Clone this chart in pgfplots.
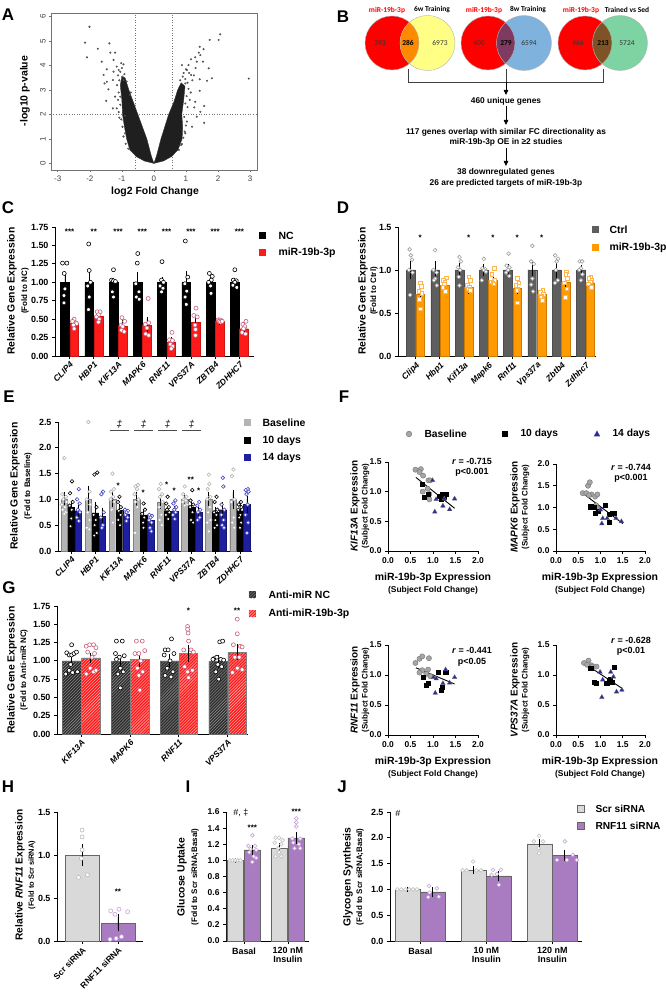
\documentclass[border=0pt]{standalone}
\usepackage{fontspec}
\setmainfont{Liberation Sans}
\newfontfamily\carlito{Carlito}
\usepackage{pgfplots}
\pgfplotsset{compat=1.18}
\usetikzlibrary{patterns,arrows.meta}
\newcommand{\fs}[1]{\fontsize{#1}{#1}\selectfont}
\definecolor{vred}{HTML}{FF0000}
\definecolor{vyel}{HTML}{FFFF85}
\definecolor{vora}{HTML}{FF8A00}
\definecolor{vblu}{HTML}{7FB3DD}
\definecolor{vpur}{HTML}{7E3A60}
\definecolor{vgrn}{HTML}{7DD3A2}
\definecolor{vbrn}{HTML}{7E5426}
\definecolor{cred}{HTML}{FF1A1A}
\definecolor{cpink}{HTML}{C8607C}
\definecolor{dgray}{HTML}{5E5E5E}
\definecolor{dorange}{HTML}{FF9A00}
\definecolor{lorange}{HTML}{FFB54D}
\definecolor{egray}{HTML}{B4B4B4}
\definecolor{eblue}{HTML}{1E1EA0}
\definecolor{epblue}{HTML}{4848C8}
\definecolor{hgray}{HTML}{D9D9D9}
\definecolor{hpur}{HTML}{A97CC1}
\definecolor{hlpur}{HTML}{C9A3DC}
\definecolor{fblue}{HTML}{2A2AA0}
\tikzset{st/.style={font=\bfseries\fs{8}}}
\pgfplotsset{
 bpan/.style={scale only axis, anchor=south west, clip=false, axis x line*=bottom, axis y line*=left,
   tick align=outside, major tick length=3bp, ymin=0, axis line style={line width=0.9bp},
   tick style={line width=0.8bp, black}, /pgf/number format/assume math mode=true,
   ticklabel style={font=\bfseries\fs{9}},
   yticklabel style={/pgf/number format/fixed, /pgf/number format/fixed zerofill, /pgf/number format/precision=1}},
 catx/.style={xticklabel style={rotate=45, anchor=north east, font=\bfseries\itshape\fs{8.5}, inner sep=1.5bp}},
 eb/.style={/pgfplots/error bars/y dir=both, /pgfplots/error bars/y explicit,
   /pgfplots/error bars/error bar style={black, line width=0.8bp, solid},
   /pgfplots/error bars/error mark options={black, mark size=2.5bp, line width=0.8bp}},
 fpan/.style={scale only axis, anchor=south west, clip=false, axis x line*=bottom, axis y line*=left,
   tick align=outside, major tick length=3bp, xmin=0, xmax=2, ymin=0, axis line style={line width=0.9bp},
   tick style={line width=0.8bp, black}, /pgf/number format/assume math mode=true,
   xtick={0,0.5,1,1.5,2}, ticklabel style={font=\bfseries\fs{8.5}, /pgf/number format/fixed, /pgf/number format/fixed zerofill, /pgf/number format/precision=1}},
 fbase/.style={only marks, mark=*, mark size=2.6bp, mark options={fill=gray!70, draw=black!55, line width=0.4bp}},
 ften/.style={only marks, mark=square*, mark size=2.1bp, mark options={fill=black, draw=black}},
 ffour/.style={only marks, mark=triangle*, mark size=2.7bp, mark options={fill=fblue, draw=black!60, line width=0.3bp}},
}
\begin{document}
\begin{tikzpicture}
\path[fill=white] (0,0) rectangle (666bp,999bp);
\path[use as bounding box] (0,0) rectangle (666bp,999bp);

% ================= A: volcano
\begin{axis}[scale only axis, anchor=south west, at={(51.7bp,829bp)}, width=206bp, height=156.7bp,
 xmin=-3.19, xmax=3.24, ymin=-0.27, ymax=6.14,
 xtick={-3,-2,-1,0,1,2,3}, ytick={0,1,2,3,4,5,6},
 tick align=outside, tick pos=left, major tick length=2.5bp,
 axis line style={black!55, line width=0.6bp}, tick style={black!55, line width=0.6bp},
 /pgf/number format/assume math mode=true,
 ticklabel style={font=\fs{8}, black!75},
 yticklabel style={rotate=90, anchor=south}]
\addplot[black!55, dotted, line width=0.6bp] coordinates {(-0.585,-0.3) (-0.585,6.2)};
\addplot[black!55, dotted, line width=0.6bp] coordinates {(0.585,-0.3) (0.585,6.2)};
\addplot[black!55, dotted, line width=0.6bp] coordinates {(-3.3,2) (3.3,2)};
\addplot[fill=black!88, draw=black!80, line width=0.4bp] coordinates {(0,0) (0.08,0.3) (0.22,1.0) (0.46,2.0) (0.62,2.5) (0.74,3.0) (0.85,3.3) (0.97,3.15) (0.93,2.6) (0.87,2.0) (0.9,1.5) (0.88,1.0) (0.75,0.55) (0.55,0.28) (0.3,0.1) (0,0)} -- cycle;
\addplot[fill=black!88, draw=black!80, line width=0.4bp] coordinates {(0,0) (-0.3,0.1) (-0.55,0.28) (-0.75,0.55) (-0.85,1.0) (-0.92,1.5) (-0.98,2.0) (-1.0,2.6) (-1.05,3.2) (-1.0,3.55) (-0.9,3.5) (-0.78,3.0) (-0.64,2.5) (-0.5,2.0) (-0.22,1.0) (-0.08,0.3) (0,0)} -- cycle;
\addplot[only marks, mark=*, mark size=0.9bp, mark options={fill=black!55, draw=black!80, line width=0.2bp}] coordinates {
(-2.01,5.59) (-2.15,4.94) (-2.09,4.34) (-1.75,4.69) (-1.39,4.91) (-1.36,4.53) (-1.21,4.53) (-1.26,4.23) (-1.63,4.16) (-1.47,3.85) (-1.57,3.62) (-1.42,3.03) (-1.47,3.34) (-1.54,3.27) (-1.49,2.56) (-1.28,2.25) (-1.08,1.87) (-1.21,2.73) (-1.16,3.96) (-1.10,3.82) (-1.26,3.75) (-1.28,3.41)
(2.07,5.28) (2.02,5.05) (1.74,5.05) (1.43,4.77) (1.55,4.67) (1.40,4.53) (1.29,4.34) (1.16,4.26) (1.34,4.16) (1.71,3.89) (1.81,3.48) (1.66,3.38) (1.43,3.44) (1.16,3.62) (2.96,3.47) (1.43,2.97) (1.29,2.52) (1.57,2.35) (1.26,2.29) (1.57,1.66) (1.45,2.11) (1.34,1.91) (1.03,1.71) (1.19,1.5) (0.98,1.23) (0.875,0.79)
(-0.9,1.23) (-0.95,1.77) (-1.16,2.25) (-1.05,2.73) (-0.95,3.41) (1.03,3.82) (0.98,3.27) (0.875,4.02) (1.08,4.02) (1.45,4.43) (1.53,4.16)
(-1.12,3.6) (-1.05,3.75) (-0.98,3.55) (-1.08,3.4) (-1.15,3.2) (-1.1,2.9) (-1.12,2.6) (-1.05,2.4) (-1.1,2.1) (-1.02,1.8) (-0.98,1.5) (-0.95,1.1) (-0.88,0.8) (-0.8,0.6) (-0.9,1.95) (-0.85,3.35) (-0.92,3.65) (-1.0,3.9) (-0.95,4.05) (-1.02,4.1) (-0.72,2.9) (-0.75,2.8)
(0.82,3.4) (0.9,3.55) (0.98,3.45) (1.05,3.3) (1.08,3.05) (1.02,2.75) (0.98,2.45) (1.05,2.3) (0.95,1.9) (1.0,1.55) (0.96,1.3) (0.92,1.05) (0.85,0.75) (0.78,0.55) (1.12,2.6) (1.15,2.9) (1.2,3.4) (1.1,3.7) (1.0,3.85) (0.93,3.7) (1.25,3.6) (1.3,3.9)};
\end{axis}

% ================= C
\begin{axis}[bpan, catx, at={(55bp,643bp)}, width=199bp, height=129bp,
 xmin=-0.6, xmax=7.6, ymax=1.75, ytick={0,0.25,0.5,0.75,1,1.25,1.5,1.75},
 yticklabel style={/pgf/number format/precision=2},
 xtick={0,1,2,3,4,5,6,7}, xticklabels={CLIP4,HBP1,KIF13A,MAPK6,RNF11,VPS37A,ZBTB4,ZDHHC7}]
\addplot[ybar, bar width=0.36, bar shift=0pt, fill=black, draw=black, eb] coordinates {
(-0.19,1) +- (0,0.10) (0.81,1) +- (0,0.13) (1.81,1) +- (0,0.03) (2.81,1) +- (0,0.11) (3.81,1) +- (0,0.04) (4.81,1) +- (0,0.12) (5.81,1) +- (0,0.04) (6.81,1) +- (0,0.03)};
\addplot[ybar, bar width=0.36, bar shift=0pt, fill=cred, draw=cred!80!black, line width=0.4bp, eb] coordinates {
(0.19,0.44) +- (0,0.02) (1.19,0.54) +- (0,0.03) (2.19,0.41) +- (0,0.04) (3.19,0.42) +- (0,0.08) (4.19,0.19) +- (0,0.03) (5.19,0.46) +- (0,0.06) (6.19,0.47) +- (0,0.01) (7.19,0.37) +- (0,0.03)};
\addplot[only marks, mark=*, mark size=2bp, mark options={fill=white, draw=black, line width=0.6bp}] coordinates {
(-0.29,1.26)(-0.11,1.26)(-0.22,1.12)(-0.19,0.91)(-0.23,0.82)(-0.23,0.72)
(0.79,1.52)(0.81,1.16)(0.86,1.0)(0.75,0.95)(0.81,0.80)(0.78,0.63)
(1.81,1.17)(1.73,1.03)(1.81,1.02)(1.89,1.01)(1.76,0.87)(1.81,0.80)
(2.81,1.39)(2.79,1.26)(2.73,0.98)(2.86,0.87)(2.75,0.80)(2.87,0.77)
(3.81,1.28)(3.79,1.03)(3.87,1.0)(3.73,0.95)(3.85,0.92)(3.79,0.87)
(4.77,1.56)(4.87,1.07)(4.75,0.98)(4.83,0.88)(4.76,0.80)(4.81,0.70)
(5.76,1.12)(5.88,1.08)(5.84,1.03)(5.73,1.0)(5.81,0.95)(5.83,0.85)
(6.81,1.17)(6.75,1.03)(6.87,1.02)(6.81,1.0)(6.73,0.96)(6.89,0.93)};
\addplot[only marks, mark=*, mark size=2bp, mark options={fill=white, draw=cpink, line width=0.6bp}] coordinates {
(0.19,0.50)(0.12,0.47)(0.26,0.45)(0.29,0.44)(0.16,0.42)(0.19,0.37)
(1.14,0.60)(1.26,0.60)(1.19,0.56)(1.11,0.53)(1.22,0.50)(1.19,0.46)
(2.16,0.52)(2.27,0.47)(2.12,0.42)(2.19,0.40)(2.14,0.35)(2.25,0.33)
(3.24,0.78)(3.26,0.45)(3.12,0.43)(3.19,0.38)(3.14,0.30)(3.26,0.28)
(4.22,0.32)(4.12,0.22)(4.24,0.21)(4.15,0.16)(4.25,0.13)(4.19,0.10)
(5.21,0.65)(5.12,0.55)(5.26,0.53)(5.17,0.42)(5.19,0.36)(5.19,0.28)
(6.12,0.49)(6.19,0.49)(6.26,0.48)(6.16,0.47)(6.22,0.46)(6.29,0.47)
(7.27,0.47)(7.14,0.43)(7.22,0.40)(7.17,0.37)(7.11,0.32)(7.25,0.30)};
\node[st] at (axis cs:0,1.69) {***};
\node[st] at (axis cs:1,1.69) {**};
\node[st] at (axis cs:2,1.69) {***};
\node[st] at (axis cs:3,1.69) {***};
\node[st] at (axis cs:4,1.69) {***};
\node[st] at (axis cs:5,1.69) {***};
\node[st] at (axis cs:6,1.69) {***};
\node[st] at (axis cs:7,1.69) {***};
\end{axis}

% ================= D
\begin{axis}[bpan, catx, at={(398bp,643bp)}, width=198bp, height=129bp,
 xmin=-0.72, xmax=7.43, ymax=1.5, ytick={0,0.5,1,1.5},
 xtick={0,1,2,3,4,5,6,7}, xticklabels={Clip4,Hbp1,Kif13a,Mapk6,Rnf11,Vps37a,Zbtb4,Zdhhc7}]
\addplot[ybar, bar width=0.36, bar shift=0pt, fill=dgray, draw=black!70, line width=0.4bp, eb] coordinates {
(-0.19,1) +- (0,0.08) (0.81,1) +- (0,0.07) (1.81,1) +- (0,0.05) (2.81,1) +- (0,0.04) (3.81,1) +- (0,0.04) (4.81,1) +- (0,0.07) (5.81,1) +- (0,0.06) (6.81,1) +- (0,0.03)};
\addplot[ybar, bar width=0.36, bar shift=0pt, fill=dorange, draw=dorange!80!black, line width=0.4bp, eb] coordinates {
(0.19,0.72) +- (0,0.05) (1.19,0.82) +- (0,0.04) (2.19,0.80) +- (0,0.05) (3.19,0.88) +- (0,0.04) (4.19,0.79) +- (0,0.04) (5.19,0.72) +- (0,0.03) (6.19,0.86) +- (0,0.06) (7.19,0.85) +- (0,0.03)};
\addplot[only marks, mark=*, mark size=1.9bp, mark options={fill=white, draw=gray!75, line width=0.6bp}] coordinates {
(-0.24,1.24)(-0.19,1.17)(-0.14,1.12)(-0.27,1.00)(-0.12,0.97)(-0.22,0.71)
(0.81,1.23)(0.74,1.00)(0.87,0.97)(0.81,0.90)(0.76,0.88)(0.88,0.82)
(1.81,1.15)(1.87,1.10)(1.75,1.03)(1.84,1.00)(1.78,0.92)(1.81,0.82)
(2.81,1.13)(2.75,1.02)(2.87,1.01)(2.81,1.00)(2.90,0.98)(2.73,0.88)
(3.83,1.19)(3.75,1.05)(3.87,1.03)(3.81,1.00)(3.73,0.97)(3.86,0.93)
(4.81,1.28)(4.76,1.10)(4.87,1.07)(4.81,0.90)(4.76,0.83)(4.84,0.75)
(5.75,1.17)(5.87,1.13)(5.81,1.10)(5.78,1.00)(5.86,0.88)(5.74,0.85)
(6.76,1.10)(6.86,1.10)(6.81,1.02)(6.74,1.00)(6.87,0.95)(6.81,0.88)};
\addplot[only marks, mark=square*, mark size=1.8bp, mark options={fill=white, draw=lorange, line width=0.7bp}] coordinates {
(0.19,0.85)(0.24,0.81)(0.13,0.75)(0.26,0.73)(0.17,0.66)(0.19,0.55)
(1.26,0.91)(1.14,0.88)(1.21,0.86)(1.19,0.84)(1.12,0.80)(1.24,0.75)
(2.19,0.92)(2.25,0.88)(2.13,0.82)(2.22,0.80)(2.17,0.78)(2.26,0.76)
(3.24,1.02)(3.15,0.95)(3.26,0.88)(3.13,0.86)(3.19,0.85)(3.22,0.84)
(4.19,0.90)(4.25,0.85)(4.13,0.82)(4.22,0.78)(4.17,0.76)(4.19,0.62)
(5.24,0.76)(5.13,0.74)(5.27,0.72)(5.19,0.70)(5.16,0.69)(5.23,0.65)
(6.22,0.98)(6.19,0.95)(6.24,0.90)(6.13,0.85)(6.23,0.78)(6.16,0.68)
(7.22,0.92)(7.14,0.90)(7.26,0.88)(7.19,0.86)(7.12,0.84)(7.23,0.80)};
\node[st] at (axis cs:0.19,1.38) {*};
\node[st] at (axis cs:2.19,1.38) {*};
\node[st] at (axis cs:3.19,1.38) {*};
\node[st] at (axis cs:4.19,1.38) {*};
\node[st] at (axis cs:5.19,1.38) {*};
\end{axis}

% ================= E
\begin{axis}[bpan, catx, at={(58bp,448bp)}, width=194bp, height=129bp,
 xmin=-0.55, xmax=7.5, ymax=2.5, ytick={0,0.5,1,1.5,2,2.5},
 xtick={0,1,2,3,4,5,6,7}, xticklabels={CLIP4,HBP1,KIF13A,MAPK6,RNF11,VPS37A,ZBTB4,ZDHHC7}]
\addplot[ybar, bar width=0.27, bar shift=0pt, fill=egray, draw=black!50, line width=0.4bp, eb] coordinates {
(-0.29,1.0) +- (0,0.10) (0.71,1.0) +- (0,0.22) (1.71,1.0) +- (0,0.10) (2.71,1.0) +- (0,0.10) (3.71,0.95) +- (0,0.08) (4.71,1.0) +- (0,0.07) (5.71,1.0) +- (0,0.10) (6.71,1.0) +- (0,0.13)};
\addplot[ybar, bar width=0.27, bar shift=0pt, fill=black, draw=black, eb] coordinates {
(0,0.85) +- (0,0.08) (1,0.74) +- (0,0.17) (2,0.79) +- (0,0.07) (3,0.70) +- (0,0.06) (4,0.77) +- (0,0.04) (5,0.85) +- (0,0.06) (6,0.75) +- (0,0.06) (7,0.78) +- (0,0.06)};
\addplot[ybar, bar width=0.27, bar shift=0pt, fill=eblue, draw=eblue!70!black, line width=0.4bp, eb] coordinates {
(0.29,0.78) +- (0,0.07) (1.29,0.67) +- (0,0.12) (2.29,0.72) +- (0,0.04) (3.29,0.60) +- (0,0.04) (4.29,0.77) +- (0,0.05) (5.29,0.76) +- (0,0.05) (6.29,0.80) +- (0,0.10) (7.29,0.90) +- (0,0.11)};
\addplot[only marks, mark=*, mark size=1.8bp, mark options={fill=white, draw=egray, line width=0.6bp}] coordinates {
(-0.29,1.80)(-0.37,1.10)(-0.22,1.05)(-0.33,1.00)(-0.20,0.95)(-0.39,0.90)(-0.26,0.85)(-0.35,0.80)(-0.23,0.75)(-0.29,0.72)
(0.71,2.50)(0.76,1.15)(0.64,1.00)(0.79,0.90)(0.68,0.75)(0.76,0.60)(0.65,0.45)(0.75,0.42)
(1.71,1.50)(1.77,1.20)(1.65,1.15)(1.74,1.05)(1.63,1.00)(1.79,0.95)(1.68,0.80)(1.73,0.55)
(2.77,1.28)(2.67,1.25)(2.73,1.20)(2.63,1.10)(2.79,1.00)(2.66,0.95)(2.74,0.85)(2.65,0.35)
(3.71,1.30)(3.64,1.20)(3.77,1.10)(3.68,1.05)(3.79,0.95)(3.65,0.85)(3.74,0.70)(3.67,0.60)(3.76,0.50)
(4.71,1.25)(4.64,1.10)(4.78,1.05)(4.68,1.00)(4.75,0.98)(4.63,0.95)(4.79,0.90)(4.71,0.88)
(5.71,1.48)(5.73,1.30)(5.66,1.20)(5.77,1.05)(5.64,1.00)(5.75,0.85)(5.68,0.75)(5.77,0.60)(5.65,0.55)(5.71,0.38)
(6.73,1.58)(6.67,1.45)(6.77,1.00)(6.64,0.95)(6.74,0.65)(6.69,0.55)(6.76,0.45)};
\addplot[only marks, mark=*, mark size=1.8bp, mark options={fill=white, draw=black, line width=0.6bp}] coordinates {
(0.03,1.35)(-0.05,1.12)(0.06,0.95)(-0.07,0.88)(0.02,0.80)(0.0,0.63)(-0.03,0.48)
(1.08,1.52)(0.96,1.48)(1.05,0.85)(0.93,0.70)(1.02,0.60)(0.97,0.50)(1.06,0.35)(0.95,0.30)
(2.0,1.05)(1.94,0.95)(2.06,0.85)(1.97,0.78)(2.05,0.70)(1.95,0.60)(2.02,0.50)
(3.0,0.92)(3.06,0.80)(2.94,0.72)(3.03,0.65)(2.98,0.55)(3.0,0.45)
(4.0,1.05)(3.94,0.92)(4.05,0.85)(3.97,0.80)(4.07,0.75)(3.93,0.70)(4.02,0.62)
(5.02,1.18)(4.95,0.98)(5.06,0.90)(4.93,0.85)(5.03,0.75)(4.97,0.60)(5.06,0.55)
(6.03,1.05)(5.95,0.95)(6.06,0.80)(5.93,0.75)(6.02,0.70)(5.98,0.60)(6.05,0.50)(5.95,0.45)
(7.04,0.95)(6.95,0.90)(7.06,0.85)(6.93,0.80)(7.02,0.70)(6.97,0.65)(7.05,0.55)(7.0,0.45)};
\addplot[only marks, mark=*, mark size=1.8bp, mark options={fill=white, draw=epblue, line width=0.6bp}] coordinates {
(0.31,1.20)(0.24,1.00)(0.35,0.92)(0.27,0.80)(0.36,0.75)(0.23,0.65)(0.31,0.58)
(1.32,1.15)(1.25,1.10)(1.35,0.75)(1.23,0.65)(1.31,0.50)(1.27,0.45)
(2.23,0.80)(2.35,0.78)(2.29,0.75)(2.25,0.70)(2.34,0.65)(2.29,0.58)
(3.24,0.70)(3.35,0.68)(3.29,0.65)(3.23,0.60)(3.33,0.55)(3.27,0.45)(3.32,0.38)
(4.32,0.98)(4.24,0.92)(4.36,0.85)(4.27,0.80)(4.33,0.75)(4.22,0.70)(4.29,0.62)
(5.31,0.95)(5.23,0.88)(5.35,0.80)(5.26,0.75)(5.33,0.65)(5.24,0.60)
(6.29,1.42)(6.31,1.25)(6.24,0.90)(6.35,0.80)(6.23,0.70)(6.32,0.60)(6.26,0.50)(6.34,0.45)
(7.33,1.20)(7.24,1.18)(7.36,1.15)(7.27,1.10)(7.32,0.90)(7.23,0.70)(7.34,0.55)(7.29,0.35)};
\draw[line width=0.6bp, black!70] (axis cs:1.6,2.33) -- (axis cs:2.4,2.33);
\draw[line width=0.6bp, black!70] (axis cs:2.6,2.33) -- (axis cs:3.4,2.33);
\draw[line width=0.6bp, black!70] (axis cs:3.6,2.33) -- (axis cs:4.4,2.33);
\draw[line width=0.6bp, black!70] (axis cs:4.6,2.33) -- (axis cs:5.4,2.33);
\node[font=\itshape\fs{10}] at (axis cs:2,2.46) {‡};
\node[font=\itshape\fs{10}] at (axis cs:3,2.46) {‡};
\node[font=\itshape\fs{10}] at (axis cs:4,2.46) {‡};
\node[font=\itshape\fs{10}] at (axis cs:5,2.46) {‡};
\node[st] at (axis cs:1.95,1.26) {*};
\node[st] at (axis cs:2.98,1.12) {*};
\node[st] at (axis cs:3.96,1.29) {*};
\node[st] at (axis cs:4.27,1.17) {*};
\node[st] at (axis cs:4.96,1.38) {**};
\node[st] at (axis cs:5.29,1.17) {*};
\end{axis}

% ================= G
\begin{axis}[bpan, catx, at={(57bp,265bp)}, width=191bp, height=128bp,
 xmin=-0.5, xmax=3.42, ymax=1.75, ytick={0,0.25,0.5,0.75,1,1.25,1.5,1.75},
 yticklabel style={/pgf/number format/precision=2},
 xtick={0,1,2,3}, xticklabels={KIF13A,MAPK6,RNF11,VPS37A}]
\addplot[ybar, bar width=0.38, bar shift=0pt, fill=black!82, draw=black!60, line width=0.5bp, postaction={pattern=north east lines, pattern color=gray!80}, eb] coordinates {
(-0.195,1.0) +- (0,0.04) (0.805,0.99) +- (0,0.05) (1.805,1.0) +- (0,0.06) (2.805,0.99) +- (0,0.06)};
\addplot[ybar, bar width=0.38, bar shift=0pt, fill=cred, draw=black!50, line width=0.5bp, postaction={pattern=north east lines, pattern color=red!25}, eb] coordinates {
(0.195,1.04) +- (0,0.04) (1.195,1.02) +- (0,0.07) (2.195,1.10) +- (0,0.08) (3.195,1.12) +- (0,0.07)};
\addplot[only marks, mark=*, mark size=2bp, mark options={fill=white, draw=black, line width=0.6bp}] coordinates {
(-0.30,1.11)(-0.25,1.08)(-0.20,1.08)(-0.15,1.10)(-0.10,1.12)(-0.20,1.22)(-0.32,0.82)(-0.25,0.87)(-0.18,0.84)(-0.08,0.85)(-0.22,0.95)
(0.72,1.27)(0.84,1.27)(0.70,1.10)(0.78,1.05)(0.88,1.07)(0.72,1.02)(0.80,0.90)(0.86,0.85)(0.75,0.82)(0.80,0.63)
(1.72,1.15)(1.78,1.15)(1.85,1.30)(1.90,1.10)(1.70,1.08)(1.82,1.0)(1.76,0.90)(1.88,0.85)(1.72,0.80)(1.84,0.78)
(2.72,1.03)(2.78,1.05)(2.84,1.26)(2.90,1.27)(2.86,1.02)(2.70,1.02)(2.92,1.01)(2.80,0.95)(2.76,0.85)(2.82,0.75)(2.88,0.92)};
\addplot[only marks, mark=*, mark size=2bp, mark options={fill=white, draw=cpink, line width=0.6bp}] coordinates {
(0.10,1.20)(0.17,1.22)(0.25,1.22)(0.30,1.18)(0.13,1.12)(0.27,1.10)(0.22,1.05)(0.10,0.82)(0.18,0.90)(0.25,0.85)(0.30,0.87)
(1.13,1.27)(1.25,1.27)(1.10,1.10)(1.18,1.10)(1.30,1.14)(1.22,1.0)(1.15,0.90)(1.26,0.85)(1.18,0.80)(1.20,0.60)
(2.18,1.47)(2.18,1.43)(2.19,1.38)(2.20,1.27)(2.10,1.15)(2.25,1.15)(2.30,1.12)(2.12,0.92)(2.28,0.87)(2.18,0.85)(2.20,0.77)
(3.20,1.57)(3.20,1.37)(3.12,1.22)(3.26,1.20)(3.30,1.19)(3.15,1.05)(3.24,1.05)(3.10,0.84)(3.20,0.90)(3.30,0.88)};
\node[st] at (axis cs:2.195,1.68) {*};
\node[st] at (axis cs:3.195,1.68) {**};
\end{axis}

% ================= F scatter
\begin{axis}[fpan, at={(388bp,448bp)}, width=90bp, height=89bp, ymax=1.5, ytick={0,0.5,1,1.5}]
\addplot[black, line width=0.9bp] coordinates {(0.62,1.24) (1.48,0.72)};
\addplot[fbase] coordinates {(0.61,1.37)(0.73,1.38)(0.70,1.33)(0.78,1.27)(0.90,1.19)(0.94,1.19)(0.77,1.0)(0.88,1.05)(0.92,0.96)(0.92,0.87)};
\addplot[ften] coordinates {(0.76,1.12)(0.81,0.91)(0.89,0.96)(1.15,0.92)(1.18,0.88)(1.28,0.96)(1.24,0.91)(1.20,0.95)};
\addplot[ffour] coordinates {(0.99,1.19)(1.07,0.87)(1.04,0.66)(1.22,0.76)(1.37,0.70)(1.48,0.88)(1.25,0.88)};
\end{axis}
\begin{axis}[fpan, at={(556bp,448bp)}, width=89bp, height=87bp, ymax=2.0, ytick={0,0.5,1,1.5,2}]
\addplot[black, line width=0.9bp] coordinates {(0.60,1.33) (1.50,0.63)};
\addplot[fbase] coordinates {(0.60,1.33)(0.68,1.33)(0.72,1.50)(0.76,1.58)(0.80,1.30)(0.88,1.25)(0.93,1.30)(0.90,1.05)(0.93,0.98)(0.74,1.28)};
\addplot[ften] coordinates {(0.78,1.02)(0.85,1.00)(0.88,0.87)(0.95,0.92)(1.10,1.05)(1.20,0.84)(1.27,0.86)(1.30,0.86)(1.20,0.67)};
\addplot[ffour] coordinates {(1.03,0.63)(1.05,0.75)(1.15,0.75)(1.35,0.75)(1.47,0.68)(1.0,0.95)};
\end{axis}
\begin{axis}[fpan, at={(388bp,264bp)}, width=90bp, height=90bp, ymax=1.5, ytick={0,0.5,1,1.5}]
\addplot[black, line width=0.9bp] coordinates {(0.62,1.12) (1.48,0.85)};
\addplot[fbase] coordinates {(0.61,1.2)(0.70,1.27)(0.76,1.31)(0.91,1.28)(0.76,1.08)(0.89,1.09)(0.85,1.02)(0.94,0.98)(0.70,1.04)};
\addplot[ften] coordinates {(0.78,0.96)(0.84,0.83)(0.89,0.86)(1.11,1.05)(1.21,0.8)(1.19,0.74)(1.28,1.05)};
\addplot[ffour] coordinates {(1.05,0.70)(1.01,0.96)(1.07,0.94)(1.22,0.86)(1.28,1.09)(1.37,0.87)(1.48,0.96)};
\end{axis}
\begin{axis}[fpan, at={(556bp,264bp)}, width=89bp, height=90bp, ymax=1.5, ytick={0,0.5,1,1.5}]
\addplot[black, line width=0.9bp] coordinates {(0.62,1.2) (1.48,0.78)};
\addplot[fbase] coordinates {(0.63,1.2)(0.73,1.24)(0.80,1.16)(0.91,1.14)(0.82,1.14)(0.70,1.17)};
\addplot[ften] coordinates {(0.78,1.11)(0.85,0.88)(0.91,0.86)(1.14,0.86)(1.20,0.91)(1.25,0.88)(1.30,1.13)(1.21,0.92)};
\addplot[ffour] coordinates {(0.99,1.05)(1.05,0.92)(1.03,0.63)(1.23,1.05)(1.29,0.97)(1.36,0.72)(1.48,0.75)};
\end{axis}

% ================= H
\begin{axis}[bpan, catx, at={(57bp,58bp)}, width=86bp, height=129bp,
 xmin=-0.7, xmax=1.7, ymax=1.5, ytick={0,0.5,1,1.5},
 xtick={0,1}, xticklabels={Scr siRNA,RNF11 siRNA}, xticklabel style={font=\bfseries\fs{8.5}}]
\addplot[ybar, bar width=0.94, bar shift=0pt, fill=hgray, draw=black!60, line width=0.5bp, eb] coordinates {(0,1.0) +- (0,0.10)};
\addplot[ybar, bar width=0.94, bar shift=0pt, fill=hpur, draw=black!60, line width=0.5bp, eb] coordinates {(1,0.21) +- (0,0.07)};
\addplot[only marks, mark=*, mark size=2bp, mark options={fill=white, draw=gray!55, line width=0.6bp}] coordinates {(0.0,1.29)(0.0,1.21)(0.0,1.06)(-0.02,0.96)(-0.10,0.74)(0.15,0.77)};
\addplot[only marks, mark=*, mark size=2bp, mark options={fill=white, draw=hlpur, line width=0.6bp}] coordinates {(0.80,0.35)(1.03,0.37)(1.27,0.34)(0.92,0.31)(0.78,0.02)(1.10,0.05)(0.95,0.03)};
\node[st] at (axis cs:1,0.57) {**};
\end{axis}

% ================= I
\begin{axis}[bpan, at={(226bp,58bp)}, width=83bp, height=129bp,
 xmin=-0.41, xmax=1.48, ymax=1.6, ytick={0,0.2,0.4,0.6,0.8,1.0,1.2,1.4,1.6},
 ticklabel style={font=\bfseries\fs{8.5}},
 xtick={0,1}, xticklabels={Basal,{120 nM\\Insulin}}, xticklabel style={anchor=north, align=center, font=\bfseries\fs{9}}]
\addplot[ybar, bar width=0.38, bar shift=0pt, fill=hgray, draw=black!60, line width=0.5bp, eb] coordinates {(-0.2,1.0) +- (0,0.0) (0.8,1.15) +- (0,0.03)};
\addplot[ybar, bar width=0.38, bar shift=0pt, fill=hpur, draw=black!60, line width=0.5bp, eb] coordinates {(0.19,1.13) +- (0,0.03) (1.19,1.28) +- (0,0.04)};
\addplot[only marks, mark=*, mark size=1.9bp, mark options={fill=white, draw=gray!50, line width=0.6bp}] coordinates {(-0.32,1.0)(-0.26,1.0)(-0.2,1.0)(-0.14,1.0)(-0.08,1.0)
(0.72,1.28)(0.80,1.28)(0.88,1.25)(0.70,1.22)(0.85,1.20)(0.78,1.15)(0.72,1.05)(0.85,1.05)(0.80,1.10)};
\addplot[only marks, mark=*, mark size=1.9bp, mark options={fill=white, draw=hlpur, line width=0.6bp}] coordinates {(0.19,1.31)(0.10,1.18)(0.25,1.18)(0.15,1.14)(0.28,1.13)(0.12,1.10)(0.22,1.05)(0.19,0.98)(0.28,1.03)
(1.19,1.52)(1.19,1.47)(1.19,1.42)(1.10,1.27)(1.28,1.27)(1.12,1.22)(1.25,1.20)(1.15,1.15)(1.28,1.15)};
\node[font=\fs{9}, anchor=west] at (axis cs:-0.32,1.585) {\#, ‡};
\node[st] at (axis cs:0.19,1.40) {***};
\node[st] at (axis cs:1.19,1.60) {***};
\end{axis}

% ================= J
\begin{axis}[bpan, at={(390bp,58bp)}, width=192bp, height=129bp,
 xmin=-0.46, xmax=2.45, ymax=2.5, ytick={0,0.5,1,1.5,2,2.5},
 xtick={0,1,2}, xticklabels={Basal,{10 nM\\Insulin},{120 nM\\Insulin}}, xticklabel style={anchor=north, align=center, font=\bfseries\fs{9}}]
\addplot[ybar, bar width=0.38, bar shift=0pt, fill=hgray, draw=black!60, line width=0.5bp, eb] coordinates {(-0.19,1.0) +- (0,0.0) (0.81,1.38) +- (0,0.03) (1.81,1.88) +- (0,0.05)};
\addplot[ybar, bar width=0.38, bar shift=0pt, fill=hpur, draw=black!60, line width=0.5bp, eb] coordinates {(0.19,0.95) +- (0,0.04) (1.19,1.26) +- (0,0.04) (2.19,1.66) +- (0,0.06)};
\addplot[only marks, mark=*, mark size=1.9bp, mark options={fill=white, draw=gray!50, line width=0.6bp}] coordinates {(-0.35,1.0)(-0.29,1.0)(-0.23,1.0)(-0.17,1.0)(-0.11,1.0)(-0.05,1.0)
(0.80,1.54)(0.70,1.37)(0.85,1.37)(0.64,1.37)(0.92,1.37)
(1.80,2.04)(1.72,1.93)(1.86,1.93)(1.79,1.80)(1.80,1.70)};
\addplot[only marks, mark=*, mark size=1.9bp, mark options={fill=white, draw=hlpur, line width=0.6bp}] coordinates {(0.13,1.07)(0.25,1.02)(0.14,0.94)(0.12,0.85)(0.28,0.86)
(1.10,1.38)(1.22,1.38)(1.16,1.30)(1.08,1.28)(1.19,1.09)
(2.19,1.93)(2.31,1.67)(2.22,1.57)(2.07,1.57)(2.37,1.57)};
\node[font=\fs{9}] at (axis cs:-0.34,2.48) {\#};
\end{axis}

% ================= text and diagrams (pixel coordinates)
\begin{scope}[x=1bp, y=-1bp, yshift=999bp]
\foreach \l/\x/\y in {A/8/15, B/343/17, C/8/208, D/343/208, E/9/397, F/344/397, G/9/588, H/8/787, I/188/787, J/342/787}{
  \node[font=\bfseries\fs{17}] at (\x,\y) {\l};}
\node[rotate=90, font=\bfseries\fs{10.5}] at (25,91) {-log10 p-value};
\node[font=\bfseries\fs{10.5}] at (155,192) {log2 Fold Change};
\fill[vred] (392,43) circle (27);
\fill[vyel] (427.5,43) circle (27.5);
\begin{scope}\clip (392,43) circle (27); \fill[vora] (427.5,43) circle (27.5);\end{scope}
\draw[gray!60, line width=0.4bp] (392,43) circle (27) (427.5,43) circle (27.5);
\fill[vred] (488,43) circle (27);
\fill[vblu] (524,43) circle (27.5);
\begin{scope}\clip (488,43) circle (27); \fill[vpur] (524,43) circle (27.5);\end{scope}
\draw[gray!60, line width=0.4bp] (488,43) circle (27) (524,43) circle (27.5);
\fill[vred] (585,43) circle (27);
\fill[vgrn] (620,43) circle (27.5);
\begin{scope}\clip (585,43) circle (27); \fill[vbrn] (620,43) circle (27.5);\end{scope}
\draw[gray!60, line width=0.4bp] (585,43) circle (27) (620,43) circle (27.5);
\node[font=\carlito\fs{7.5}, text=black!80] at (380,43) {393};
\node[font=\carlito\bfseries\fs{7.5}] at (408,43) {286};
\node[font=\carlito\fs{7.5}, text=black!80] at (440,43) {6973};
\node[font=\carlito\fs{7.5}, text=black!80] at (479,43) {400};
\node[font=\carlito\bfseries\fs{7.5}] at (506,43) {279};
\node[font=\carlito\fs{7.5}, text=black!80] at (529,43) {6594};
\node[font=\carlito\fs{7.5}, text=black!80] at (578,43) {466};
\node[font=\carlito\bfseries\fs{7.5}] at (603,43) {213};
\node[font=\carlito\fs{7.5}, text=black!80] at (627,43) {5724};
\node[font=\carlito\bfseries\fs{7.5}, text=vred] at (387,10) {miR-19b-3p};
\node[font=\carlito\bfseries\fs{7.5}] at (432,10) {6w Training};
\node[font=\carlito\bfseries\fs{7.5}, text=vred] at (484,10) {miR-19b-3p};
\node[font=\carlito\bfseries\fs{7.5}] at (528,10) {8w Training};
\node[font=\carlito\bfseries\fs{7.5}, text=vred] at (581,10) {miR-19b-3p};
\node[font=\carlito\bfseries\fs{7.5}] at (627,10) {Trained vs Sed};
\draw[black!75, line width=0.8bp] (408,69) -- (408,82) -- (603,82) -- (603,69) (506,69) -- (506,82);
\draw[black, line width=0.8bp, -{Triangle[length=5bp,width=4.5bp]}] (506,82) -- (506,95);
\node[font=\bfseries\fs{8.4}] at (506,101) {460 unique genes};
\draw[black, line width=0.8bp, -{Triangle[length=5bp,width=4.5bp]}] (506,106) -- (506,125);
\node[font=\bfseries\fs{8.4}] at (506,132) {117 genes overlap with similar FC directionality as};
\node[font=\bfseries\fs{8.4}] at (506,142.5) {miR-19b-3p OE in ≥2 studies};
\draw[black, line width=0.8bp, -{Triangle[length=5bp,width=4.5bp]}] (506,148) -- (506,166);
\node[font=\bfseries\fs{8.4}] at (506,172.5) {38 downregulated genes};
\node[font=\bfseries\fs{8.4}] at (506,183) {26 are predicted targets of miR-19b-3p};
\node[rotate=90, font=\bfseries\fs{10.4}] at (12,291) {Relative Gene Expression};
\node[rotate=90, font=\bfseries\fs{8}] at (25,291) {(Fold to NC)};
\fill[black] (258.5,232.5) rectangle (265.5,239.5);
\node[anchor=west, font=\bfseries\fs{10.5}] at (275,236) {NC};
\fill[cred] (258.5,249.5) rectangle (265.5,256.5);
\node[anchor=west, font=\bfseries\fs{10.5}] at (275,253) {miR-19b-3p};
\node[rotate=90, font=\bfseries\fs{10.4}] at (363,291) {Relative Gene Expression};
\node[rotate=90, font=\bfseries\fs{8}] at (374,291) {(Fold to Ctrl)};
\fill[dgray] (591.5,226.5) rectangle (598.5,233.5);
\node[anchor=west, font=\bfseries\fs{10.5}] at (606,230) {Ctrl};
\fill[dorange] (591.5,244.5) rectangle (598.5,251.5);
\node[anchor=west, font=\bfseries\fs{10.5}] at (606,248) {miR-19b-3p};
\node[rotate=90, font=\bfseries\fs{10.4}] at (15,486) {Relative Gene Expression};
\node[rotate=90, font=\bfseries\fs{8}] at (28,486) {(Fold to Baseline)};
\fill[egray] (243.5,419.5) rectangle (250.5,426.5);
\node[anchor=west, font=\bfseries\fs{10.5}] at (259,423) {Baseline};
\fill[black] (243.5,437.5) rectangle (250.5,444.5);
\node[anchor=west, font=\bfseries\fs{10.5}] at (259,441) {10 days};
\fill[eblue] (243.5,454.5) rectangle (250.5,461.5);
\node[anchor=west, font=\bfseries\fs{10.5}] at (259,458) {14 days};
\node[rotate=90, font=\bfseries\fs{10.4}] at (12,670) {Relative Gene Expression};
\node[rotate=90, font=\bfseries\fs{8}] at (24,670) {(Fold to Anti-miR NC)};
\fill[black!82] (248.5,591.5) rectangle (255.5,598.5);
\fill[pattern=north east lines, pattern color=gray!80] (248.5,591.5) rectangle (255.5,598.5);
\node[anchor=west, font=\bfseries\fs{10.5}] at (265,595) {Anti-miR NC};
\fill[cred] (248.5,610.5) rectangle (255.5,617.5);
\fill[pattern=north east lines, pattern color=red!25] (248.5,610.5) rectangle (255.5,617.5);
\node[anchor=west, font=\bfseries\fs{10.5}] at (265,614) {Anti-miR-19b-3p};
\fill[gray!70] (409,434) circle (2.8); \draw[black!55, line width=0.4bp] (409,434) circle (2.8);
\node[anchor=west, font=\bfseries\fs{10.3}] at (421,434) {Baseline};
\fill[black] (502,431) rectangle (508,437);
\node[anchor=west, font=\bfseries\fs{10.3}] at (517,434) {10 days};
\fill[fblue] (597,430.5) -- (600.2,436.5) -- (593.8,436.5) -- cycle;
\node[anchor=west, font=\bfseries\fs{10.3}] at (609,434) {14 days};
\node[rotate=90, font=\bfseries\fs{10}] at (355,506) {\textit{KIF13A} Expression};
\node[rotate=90, font=\bfseries\fs{8}] at (365.5,506) {(Subject Fold Change)};
\node[rotate=90, font=\bfseries\fs{10}] at (515,507) {\textit{MAPK6} Expression};
\node[rotate=90, font=\bfseries\fs{8}] at (525.5,507) {(Subject Fold Change)};
\node[rotate=90, font=\bfseries\fs{10}] at (355,690) {\textit{RNF11} Expression};
\node[rotate=90, font=\bfseries\fs{8}] at (365.5,690) {(Subject Fold Change)};
\node[rotate=90, font=\bfseries\fs{10}] at (515,690) {\textit{VPS37A} Expression};
\node[rotate=90, font=\bfseries\fs{8}] at (525.5,690) {(Subject Fold Change)};
\node[font=\bfseries\fs{10.5}] at (433,578) {miR-19b-3p Expression};
\node[font=\bfseries\fs{8.5}] at (433,590) {(Subject Fold Change)};
\node[font=\bfseries\fs{10.5}] at (600,578) {miR-19b-3p Expression};
\node[font=\bfseries\fs{8.5}] at (600,590) {(Subject Fold Change)};
\node[font=\bfseries\fs{10.5}] at (433,762) {miR-19b-3p Expression};
\node[font=\bfseries\fs{8.5}] at (433,774) {(Subject Fold Change)};
\node[font=\bfseries\fs{10.5}] at (600,762) {miR-19b-3p Expression};
\node[font=\bfseries\fs{8.5}] at (600,774) {(Subject Fold Change)};
\node[font=\bfseries\fs{9}] at (472,461) {\textit{r} = -0.715};
\node[font=\bfseries\fs{9}] at (472,472) {p<0.001};
\node[font=\bfseries\fs{9}] at (631,467) {\textit{r} = -0.744};
\node[font=\bfseries\fs{9}] at (631,478) {p<0.001};
\node[font=\bfseries\fs{9}] at (472,650) {\textit{r} = -0.441};
\node[font=\bfseries\fs{9}] at (472,662) {p<0.05};
\node[font=\bfseries\fs{9}] at (631,640) {\textit{r} = -0.628};
\node[font=\bfseries\fs{9}] at (631,651) {p<0.01};
\node[rotate=90, font=\bfseries\fs{10.2}] at (20,875) {Relative \textit{RNF11} Expression};
\node[rotate=90, font=\bfseries\fs{7.5}] at (32,875) {(Fold to Scr siRNA)};
\node[rotate=90, font=\bfseries\fs{10.4}] at (182,877) {Glucose Uptake};
\node[rotate=90, font=\bfseries\fs{8}] at (195,877) {(Fold to Scr siRNA;Basal)};
\node[rotate=90, font=\bfseries\fs{10.4}] at (348,877) {Glycogen Synthesis};
\node[rotate=90, font=\bfseries\fs{8}] at (360,877) {(Fold to Scr siRNA;Basal)};
\fill[hgray] (577,805) rectangle (584,812); \draw[black!60, line width=0.4bp] (577,805) rectangle (584,812);
\node[anchor=west, font=\bfseries\fs{10.2}] at (592,808.5) {Scr siRNA};
\fill[hpur] (577,822.5) rectangle (584,829.5); \draw[black!60, line width=0.4bp] (577,822.5) rectangle (584,829.5);
\node[anchor=west, font=\bfseries\fs{10.2}] at (592,826) {RNF11 siRNA};
\end{scope}
\end{tikzpicture}
\end{document}
